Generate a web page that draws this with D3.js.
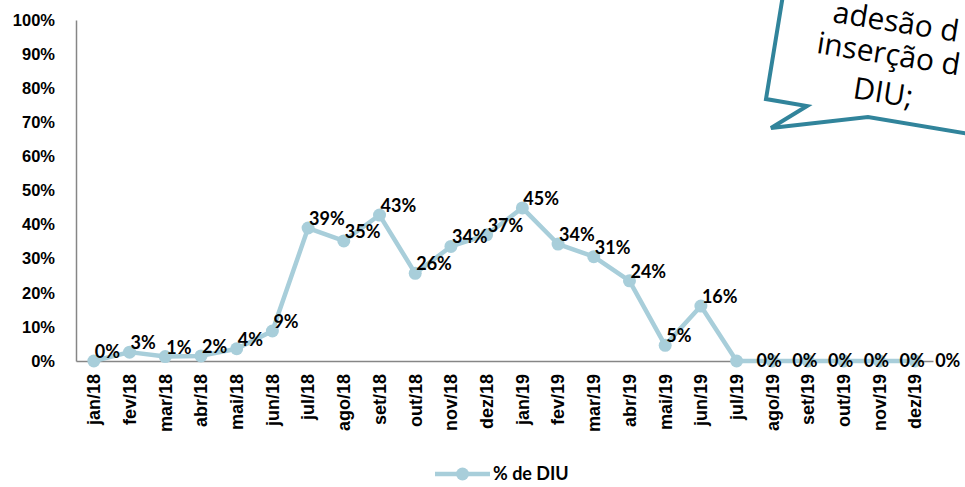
<!DOCTYPE html>
<html>
<head>
<meta charset="utf-8">
<script src="https://cdn.jsdelivr.net/npm/d3@7"></script>
<style>
  body { margin: 0; background: #fff; }
  svg { display: block; font-family: Lato, "Open Sans", sans-serif; }
</style>
</head>
<body>
<svg id="viz" width="965" height="487"></svg>
<script>
var months = ["jan/18","fev/18","mar/18","abr/18","mai/18","jun/18","jul/18","ago/18","set/18","out/18","nov/18","dez/18",
              "jan/19","fev/19","mar/19","abr/19","mai/19","jun/19","jul/19","ago/19","set/19","out/19","nov/19","dez/19"];
var diu = [0, 2.6, 1.3, 1.5, 3.6, 8.8, 39, 35.2, 42.8, 25.7, 33.6, 37,
           44.9, 34.3, 30.6, 23.5, 4.6, 16.1, 0, 0, 0, 0, 0, 0];
var yTicks = [0, 10, 20, 30, 40, 50, 60, 70, 80, 90, 100];
var seriesName = "% de DIU";
var bubbleLines = ["adesão d", "inserção d", "DIU;"];

var svg = d3.select("#viz");
var lineColor = "#a8ceda";

var x = d3.scaleBand().domain(months).range([76, 933]);
var y = d3.scaleLinear().domain([0, 100]).range([361, 20]);
var cx = function(d, i) { return x(months[i]) + x.bandwidth() / 2; };

// y axis
var yAxis = svg.append("g").attr("transform", "translate(76,0)")
  .call(d3.axisLeft(y).tickValues(yTicks).tickSize(0).tickPadding(21).tickFormat(function(d) { return d + "%"; }));
yAxis.select(".domain").attr("stroke", "#868686").attr("stroke-width", 1.5);
yAxis.selectAll("text").attr("font-size", 16.5).attr("font-weight", "bold").attr("fill", "#000");

// x axis
var xAxis = svg.append("g").attr("transform", "translate(0,361)")
  .call(d3.axisBottom(x).tickSize(0).tickSizeOuter(0));
xAxis.select(".domain").attr("stroke", "#868686").attr("stroke-width", 1.5);
xAxis.selectAll("text")
  .attr("font-size", 18).attr("font-weight", "bold").attr("fill", "#000")
  .attr("transform", "rotate(-90)")
  .attr("text-anchor", "end")
  .attr("x", -13).attr("y", 0).attr("dy", "0.35em");

// line
var line = d3.line().x(cx).y(function(d) { return y(d); });
svg.append("path").datum(diu)
  .attr("d", line)
  .attr("fill", "none")
  .attr("stroke", lineColor)
  .attr("stroke-width", 4.5)
  .attr("stroke-linejoin", "round");

svg.selectAll("circle.pt").data(diu).enter().append("circle")
  .classed("pt", true)
  .attr("cx", cx)
  .attr("cy", function(d) { return y(d); })
  .attr("r", 6.5)
  .attr("fill", lineColor);

// labels
svg.selectAll("text.lbl").data(diu).enter().append("text")
  .classed("lbl", true)
  .attr("x", function(d, i) { return i >= 18 ? cx(d, i) + 20 : cx(d, i) + 1; })
  .attr("y", function(d, i) { return i >= 18 ? y(d) : y(d) - 3; })
  .attr("dy", function(d, i) { return i >= 18 ? "0.35em" : 0; })
  .attr("font-size", 18).attr("font-weight", "bold").attr("fill", "#000")
  .text(function(d) { return Math.round(d) + "%"; });

// legend
var lg = svg.append("g").attr("transform", "translate(435,474)");
lg.append("line").attr("x1", 0).attr("x2", 55).attr("stroke", lineColor).attr("stroke-width", 4.5);
lg.append("circle").attr("cx", 27.5).attr("r", 6.5).attr("fill", lineColor);
lg.append("text").attr("x", 58).attr("dy", "0.35em")
  .attr("font-size", 18).attr("font-weight", "bold").text(seriesName);

// speech bubble callout
svg.append("path")
  .attr("d", "M783,-5 L766,99 L807,106 L771,128 L868,117 L975,135 L975,-5 Z")
  .attr("fill", "#fff")
  .attr("stroke", "#31849b")
  .attr("stroke-width", 4)
  .attr("stroke-linejoin", "miter");

var bt = svg.append("g").attr("transform", "translate(880,62) rotate(9)");
var bpos = [[-54, -32], [-65, 1], [8, 40]];
bt.selectAll("text").data(bubbleLines).enter().append("text")
  .attr("x", function(d, i) { return bpos[i][0]; })
  .attr("y", function(d, i) { return bpos[i][1]; })
  .attr("text-anchor", function(d, i) { return i == 2 ? "middle" : "start"; })
  .attr("font-size", 30)
  .attr("font-family", "'Open Sans', Lato, sans-serif")
  .attr("fill", "#000")
  .text(function(d) { return d; });
</script>
</body>
</html>
